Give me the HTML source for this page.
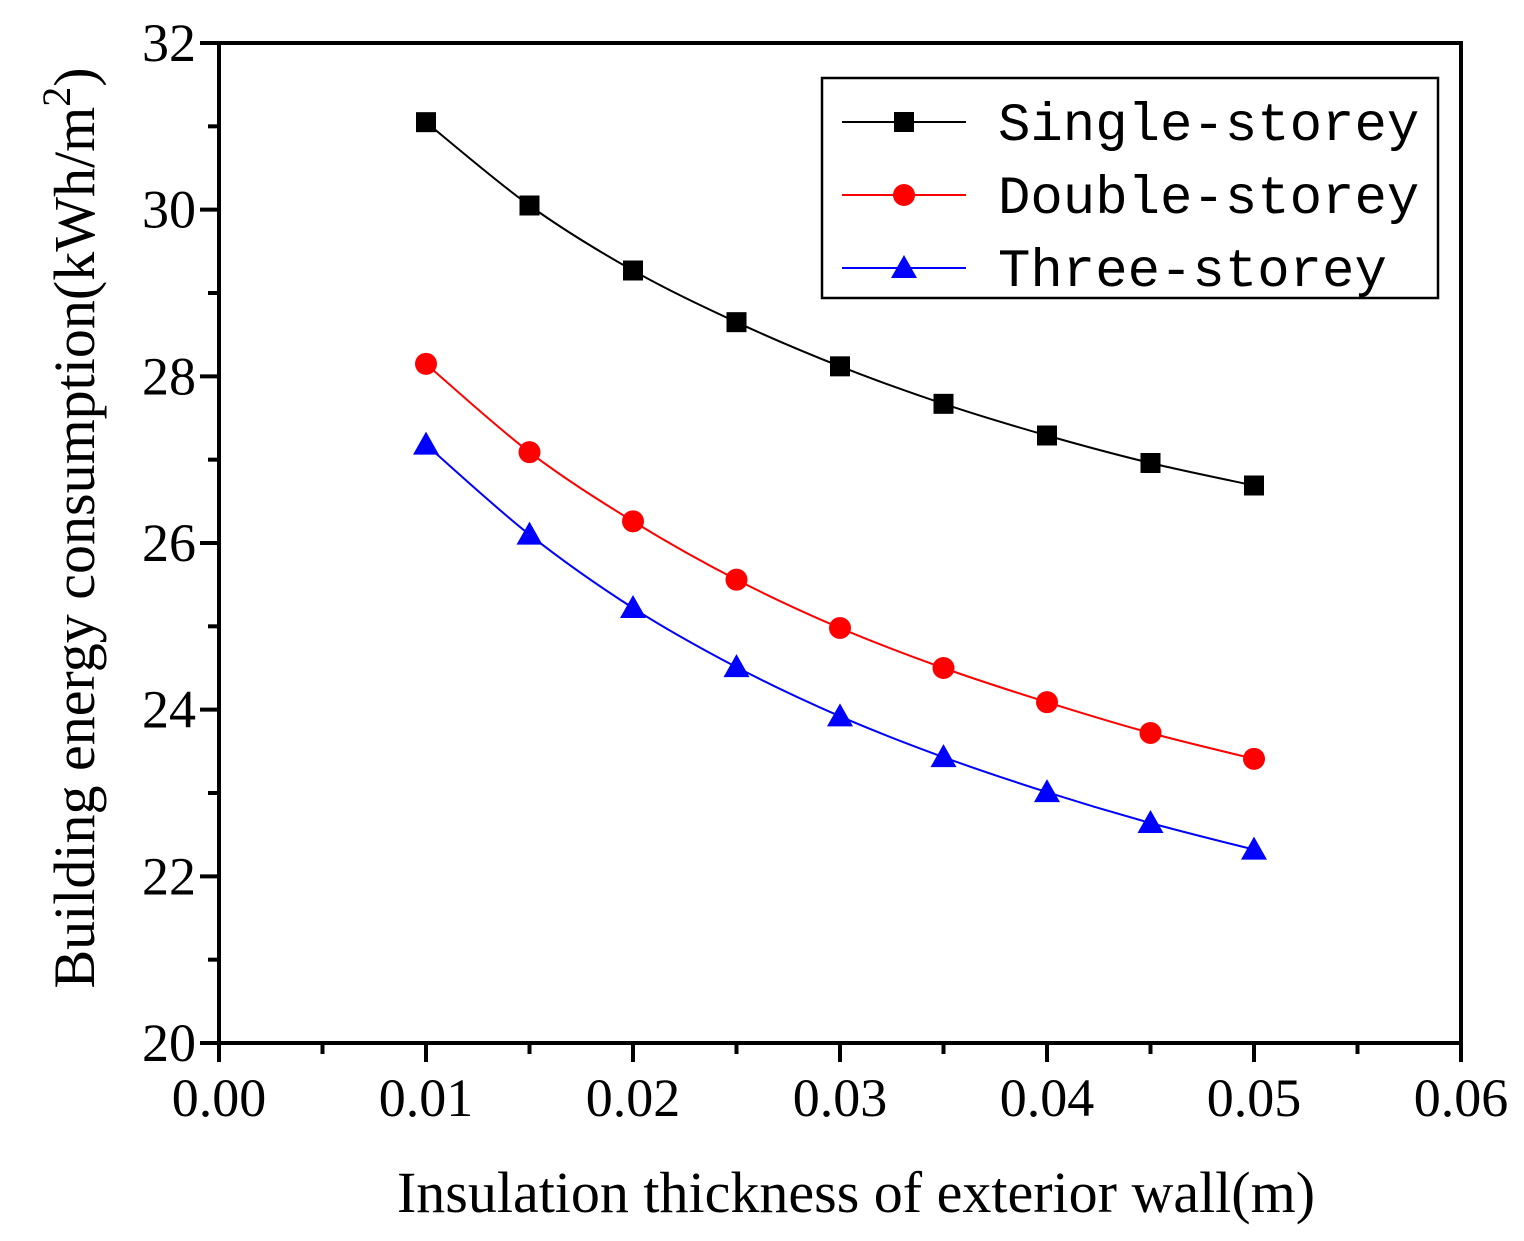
<!DOCTYPE html>
<html><head><meta charset="utf-8"><style>
html,body{margin:0;padding:0;background:#fff;}
svg{display:block;}
text{font-family:"Liberation Serif",serif;fill:#000;}
</style></head><body>
<svg id="chart" width="1524" height="1241" xmlns="http://www.w3.org/2000/svg"></svg>
<script>
const xValues=[0.01,0.015,0.02,0.025,0.03,0.035,0.04,0.045,0.05];
const singleStorey=[31.05,30.05,29.27,28.65,28.12,27.67,27.29,26.96,26.69];
const doubleStorey=[28.15,27.09,26.26,25.56,24.98,24.50,24.09,23.72,23.41];
const threeStorey=[27.18,26.10,25.22,24.51,23.92,23.43,23.01,22.64,22.32];
const xTicks=[0,0.01,0.02,0.03,0.04,0.05,0.06];
const xTickLabels=["0.00","0.01","0.02","0.03","0.04","0.05","0.06"];
const yTicks=[20,22,24,26,28,30,32];
const yTickLabels=["20","22","24","26","28","30","32"];

const NS="http://www.w3.org/2000/svg";
const svg=document.getElementById('chart');
const L=219,R=1461,T=43,B=1043;
const X=v=>L+(v-0)/(0.06)*(R-L);
const Y=v=>B-(v-20)/12*(B-T);
function mk(tag,attrs,parent){const e=document.createElementNS(NS,tag);for(const k in attrs)e.setAttribute(k,attrs[k]);(parent||svg).appendChild(e);return e;}

const frame=mk('rect',{x:L,y:T,width:R-L,height:B-T,fill:'none',stroke:'#000','stroke-width':4});



xTicks.forEach((v,i)=>{
  const t=mk('line',{x1:X(v),x2:X(v),y1:B,y2:B+19,stroke:'#000','stroke-width':4});
  
  
  const lb=mk('text',{x:X(v),y:B+73,'font-size':54,'text-anchor':'middle'});
  lb.textContent=xTickLabels[i];
  
  
  if(i<xTicks.length-1){
    const m=mk('line',{x1:X(v+0.005),x2:X(v+0.005),y1:B,y2:B+11,stroke:'#000','stroke-width':4});
    
    
  }
});
yTicks.forEach((v,i)=>{
  const t=mk('line',{x1:L-19,x2:L,y1:Y(v),y2:Y(v),stroke:'#000','stroke-width':4});
  
  
  const lb=mk('text',{x:L-23,y:Y(v)+18,'font-size':54,'text-anchor':'end'});
  lb.textContent=yTickLabels[i];
  
  
  if(i<yTicks.length-1){
    const m=mk('line',{x1:L-11,x2:L,y1:Y(v+1),y2:Y(v+1),stroke:'#000','stroke-width':4});
    
    
  }
});
const xt=mk('text',{x:856,y:1212,'font-size':58,'text-anchor':'middle'});
xt.textContent='Insulation thickness of exterior wall(m)';


const yt=mk('text',{transform:'translate(94,528) rotate(-90)','font-size':58,'text-anchor':'middle'});
yt.innerHTML='Building energy consumption(kWh/m<tspan dy="-24" font-size="40">2</tspan><tspan dy="24">)</tspan>';



function smooth(pts){
  let d=`M${pts[0][0]},${pts[0][1]}`;
  for(let i=0;i<pts.length-1;i++){
    const p0=pts[i-1]||pts[i],p1=pts[i],p2=pts[i+1],p3=pts[i+2]||p2;
    const c1=[p1[0]+(p2[0]-p0[0])/6,p1[1]+(p2[1]-p0[1])/6];
    const c2=[p2[0]-(p3[0]-p1[0])/6,p2[1]-(p3[1]-p1[1])/6];
    d+=` C${c1[0]},${c1[1]} ${c2[0]},${c2[1]} ${p2[0]},${p2[1]}`;
  }
  return d;
}
function marker(type,cx,cy,color,name){
  let m;
  if(type==='square') m=mk('rect',{x:cx-10,y:cy-10,width:20,height:20,fill:color});
  else if(type==='circle') m=mk('circle',{cx:cx,cy:cy,r:11,fill:color});
  else m=mk('polygon',{points:`${cx},${cy-13} ${cx-13},${cy+10} ${cx+13},${cy+10}`,fill:color});
  
  
}
const series=[[singleStorey,'#000','square','single'],[doubleStorey,'#f00','circle','double'],[threeStorey,'#00f','triangle','three']];
series.forEach(([vals,col,mt,nm])=>{
  const pts=xValues.map((x,i)=>[X(x),Y(vals[i])]);
  const p=mk('path',{d:smooth(pts),fill:'none',stroke:col,'stroke-width':2});
  
  
  pts.forEach(q=>marker(mt,q[0],q[1],col,nm+'-storey-point'));
});
const lg=mk('rect',{x:822,y:78,width:616,height:220,fill:'#fff',stroke:'#000','stroke-width':2.5});


const labels=['Single-storey','Double-storey','Three-storey'];
series.forEach(([v,col,mt,nm],i)=>{
  const cy=122+i*73;
  const l=mk('line',{x1:842,x2:966,y1:cy,y2:cy,stroke:col,'stroke-width':2});
  
  
  marker(mt,904,cy,col,'legend-marker');
  const t=mk('text',{x:998,y:cy+18,'font-size':54,style:'font-family:"Liberation Mono",monospace'});
  t.textContent=labels[i];
  
  
});
</script>
</body></html>
